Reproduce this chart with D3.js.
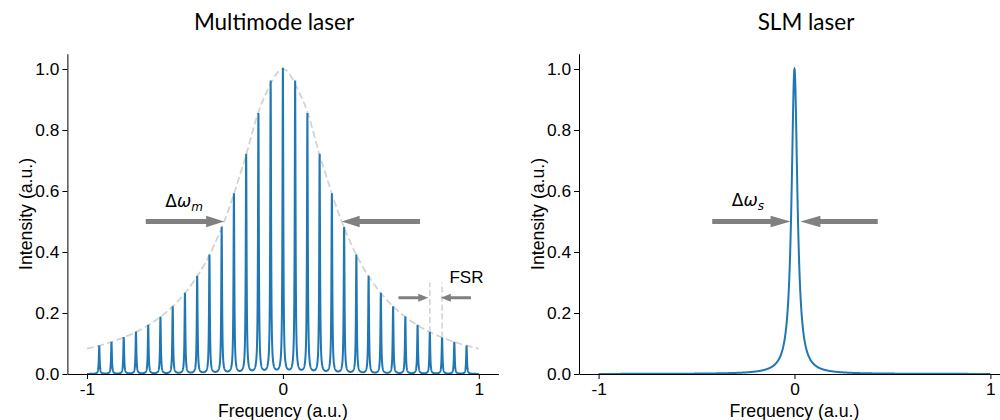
<!DOCTYPE html>
<html>
<head>
<meta charset="utf-8">
<script src="https://cdn.jsdelivr.net/npm/d3@7"></script>
<style>
  body { margin: 0; background: #fff; }
  text { fill: #000; }
</style>
</head>
<body>
<script>
    // Data
    let modeFreqs = [-0.9375, -0.875, -0.8125, -0.75, -0.6875, -0.625, -0.5625, -0.5, -0.4375, -0.375,
        -0.3125, -0.25, -0.1875, -0.125, -0.0625, 0, 0.0625, 0.125, 0.1875, 0.25, 0.3125, 0.375,
        0.4375, 0.5, 0.5625, 0.625, 0.6875, 0.75, 0.8125, 0.875, 0.9375];
    let modeHeights = [0.093, 0.105, 0.120, 0.138, 0.160, 0.187, 0.221, 0.265, 0.320, 0.390,
        0.480, 0.590, 0.719, 0.852, 0.958, 1.000, 0.958, 0.852, 0.719, 0.590, 0.480, 0.390,
        0.320, 0.265, 0.221, 0.187, 0.160, 0.138, 0.120, 0.105, 0.093];
    let modeHalfWidth = 0.0025;

    let envFreqs = [-1, -0.9, -0.8, -0.7, -0.6, -0.5, -0.4, -0.3, -0.2, -0.1, 0,
        0.1, 0.2, 0.3, 0.4, 0.5, 0.6, 0.7, 0.8, 0.9, 1];
    let envValues = [0.083, 0.100, 0.123, 0.155, 0.200, 0.265, 0.360, 0.500, 0.692, 0.900, 1.000,
        0.900, 0.692, 0.500, 0.360, 0.265, 0.200, 0.155, 0.123, 0.100, 0.083];

    let slmFreq = 0;
    let slmHeight = 1.0;
    let slmHalfWidth = 0.018;

    let xTicks = [-1, 0, 1];
    let xTickLabels = ["-1", "0", "1"];
    let yTicks = [0, 0.2, 0.4, 0.6, 0.8, 1.0];

    // Set up SVG
    let W = 1000, H = 420;
    let font = "Liberation Sans, Arial, sans-serif";
    let svg = d3.select("body").append("svg")
        .attr("width", W).attr("height", H)
        .attr("font-family", font);

    let panels = [
        { left: 67.4, title: "Multimode laser", titleX: 274 },
        { left: 579, title: "SLM laser", titleX: 806 }
    ];
    let plotW = 431, plotTop = 53.75, plotBottom = 374;

    // sample grid from -1 to 1
    let grid = d3.range(0, 4001).map(i => -1 + i * 0.0005);
    let lorentz = (x, c, h, g) => h * g * g / ((x - c) * (x - c) + g * g);

    let multiData = grid.map(x => [x, d3.sum(modeFreqs, (c, i) => lorentz(x, c, modeHeights[i], modeHalfWidth))]);
    let slmData = grid.map(x => [x, lorentz(x, slmFreq, slmHeight, slmHalfWidth)]);

    function arrow(g, x1, y1, x2, y2, shaft, headW, headL) {
        let dx = x2 - x1, dy = y2 - y1, len = Math.hypot(dx, dy);
        let ux = dx / len, uy = dy / len, px = -uy, py = ux;
        let bx = x2 - ux * headL, by = y2 - uy * headL;
        let pts = [
            [x1 + px * shaft / 2, y1 + py * shaft / 2],
            [bx + px * shaft / 2, by + py * shaft / 2],
            [bx + px * headW / 2, by + py * headW / 2],
            [x2, y2],
            [bx - px * headW / 2, by - py * headW / 2],
            [bx - px * shaft / 2, by - py * shaft / 2],
            [x1 - px * shaft / 2, y1 - py * shaft / 2]
        ];
        g.append("path").attr("d", "M" + pts.join("L") + "Z").attr("fill", "#808080");
    }

    function mathLabel(g, x, y, sub) {
        let t = g.append("text").attr("x", x).attr("y", y)
            .attr("font-family", "DejaVu Sans, sans-serif").attr("font-size", 17);
        t.append("tspan").text("Δ");
        t.append("tspan").attr("font-style", "italic").text("ω");
        t.append("tspan").attr("font-style", "italic").attr("font-size", 12)
            .attr("dy", 4).text(sub);
    }

    panels.forEach((p, pi) => {
        let x = d3.scaleLinear().domain([-1.1, 1.1]).range([p.left, p.left + plotW]);
        let y = d3.scaleLinear().domain([0, 1.05]).range([plotBottom, plotTop]);
        let g = svg.append("g");

        let line = d3.line().x(d => x(d[0])).y(d => y(d[1]));

        if (pi === 0) {
            // envelope
            g.append("path")
                .datum(envFreqs.map((f, i) => [f, envValues[i]]))
                .attr("d", line.curve(d3.curveCatmullRom.alpha(0.5)))
                .attr("fill", "none").attr("stroke", "#d3d3d3")
                .attr("stroke-width", 1.8).attr("stroke-dasharray", "7,3.3");
            line.curve(d3.curveLinear);
            g.append("path").datum(multiData).attr("d", line)
                .attr("fill", "none").attr("stroke", "#1f77b4").attr("stroke-width", 2);

            // FSR markers
            [27, 28].forEach(k => {
                g.append("line")
                    .attr("x1", x(modeFreqs[k])).attr("x2", x(modeFreqs[k]))
                    .attr("y1", y(modeHeights[k])).attr("y2", y(0.30))
                    .attr("stroke", "#d3d3d3").attr("stroke-width", 1.6)
                    .attr("stroke-dasharray", "6,3");
            });
            arrow(g, x(0.59), y(0.25), x(0.742), y(0.25), 2.8, 8, 10);
            arrow(g, x(0.96), y(0.25), x(0.806), y(0.25), 2.8, 8, 10);
            g.append("text").attr("x", x(0.85)).attr("y", y(0.30))
                .attr("font-size", 17).text("FSR");

            arrow(g, x(-0.7), y(0.5), x(-0.3), y(0.5), 4.8, 11.5, 18);
            arrow(g, x(0.7), y(0.5), x(0.3), y(0.5), 4.8, 11.5, 18);
            mathLabel(g, x(-0.6), y(0.546), "m");
        } else {
            g.append("path").datum(slmData).attr("d", line)
                .attr("fill", "none").attr("stroke", "#1f77b4").attr("stroke-width", 2);
            arrow(g, x(-0.42), y(0.5), x(-0.02), y(0.5), 4.8, 11.5, 20);
            arrow(g, x(0.425), y(0.5), x(0.03), y(0.5), 4.8, 11.5, 20);
            mathLabel(g, x(-0.32), y(0.55), "s");
        }

        // Axes
        let xAxis = g.append("g").attr("transform", `translate(0,${plotBottom})`)
            .call(d3.axisBottom(x).tickValues(xTicks).tickFormat((d, i) => xTickLabels[i])
                .tickSize(5).tickSizeOuter(0).tickPadding(4));
        let yAxis = g.append("g").attr("transform", `translate(${p.left},0)`)
            .call(d3.axisLeft(y).tickValues(yTicks).tickFormat(d3.format(".1f"))
                .tickSize(5).tickSizeOuter(0).tickPadding(3));
        [xAxis, yAxis].forEach(a => {
            a.attr("font-family", font).attr("font-size", 17.3);
            a.selectAll("text").attr("fill", "#000");
            a.selectAll("line, path").attr("stroke", "#000").attr("stroke-width", 1);
        });

        // Labels
        g.append("text").attr("x", p.left + plotW / 2).attr("y", 416.5)
            .attr("text-anchor", "middle").attr("font-size", 17.7).text("Frequency (a.u.)");
        g.append("text")
            .attr("transform", `translate(${p.left - 35},${(plotTop + plotBottom) / 2}) rotate(-90)`)
            .attr("text-anchor", "middle").attr("font-size", 17.7).text("Intensity (a.u.)");
        g.append("text").attr("x", p.titleX).attr("y", 30)
            .attr("text-anchor", "middle")
            .attr("font-family", "Lato, sans-serif").attr("font-size", 22.5).text(p.title);
    });
</script>
</body>
</html>
